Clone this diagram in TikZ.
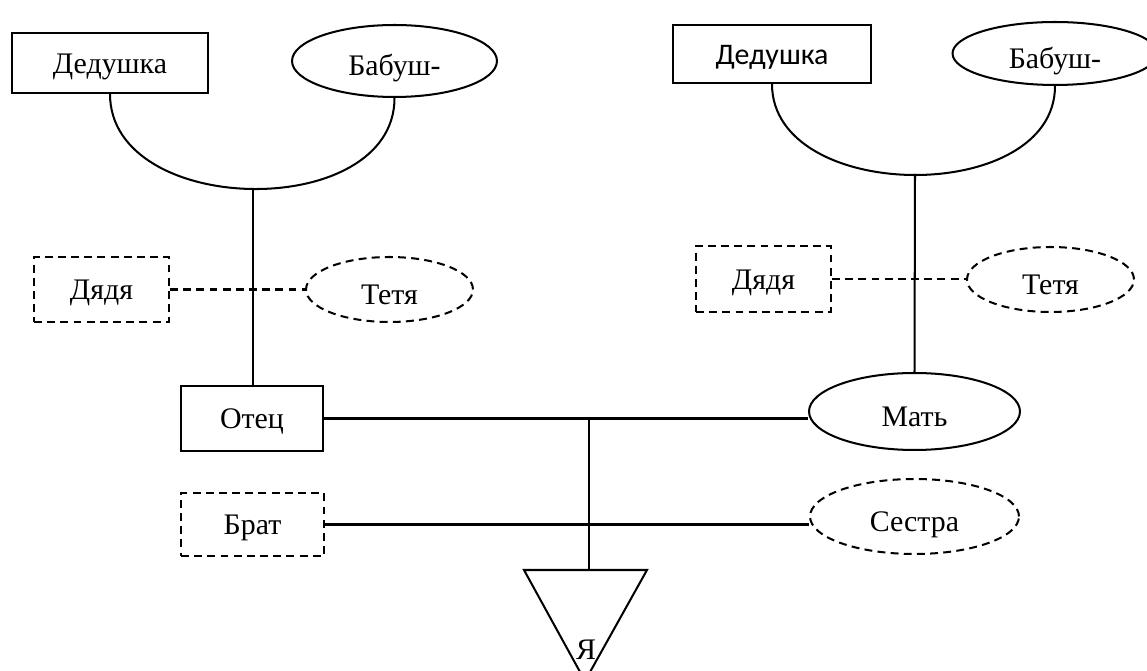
\documentclass[tikz,border=0pt]{standalone}
\usepackage{fontspec}
\setmainfont{Liberation Serif}
\newfontfamily\calibrifont{Carlito}
\usetikzlibrary{calc}
\usetikzlibrary{positioning}
\usetikzlibrary{shapes.geometric}

\tikzset{
    person/.style={draw, line width=1.15pt, inner sep=0pt, font=\fontsize{17}{20}\selectfont},
    male/.style={person, rectangle, text height=11.5pt, text depth=0pt},
    female/.style={person, ellipse, text height=16.6pt, text depth=0pt},
    side/.style={dash pattern=on 4.5pt off 3pt},
}

\begin{document}
\begin{tikzpicture}[x=0.02cm, y=-0.02cm, line width=1.15pt]

        \useasboundingbox (0,0) rectangle (1147,671);

        % father's side
        \node[male, minimum width=3.92cm, minimum height=1.2cm] (dedL) at (110,63) {Дедушка};
        \node[female, minimum width=4.1cm, minimum height=1.44cm] (babL) at (394.5,61) {Бабуш-};
        \node[male, side, minimum width=2.7cm, minimum height=1.3cm] (dyaL) at (101.5,289.5) {Дядя};
        \node[female, side, minimum width=3.34cm, minimum height=1.3cm] (tetL) at (389.5,289.5) {Тетя};
        \node[male, minimum width=2.84cm, minimum height=1.3cm] (otec) at (252,418.5) {Отец};

        % mother's side
        \node[male, minimum width=3.96cm, minimum height=1.16cm, font=\calibrifont\fontsize{17}{20}\selectfont] (dedR) at (772,54) {Дедушка};
        \node[female, minimum width=4.1cm, minimum height=1.26cm] (babR) at (1055,53.5) {Бабуш-};
        \node[male, side, minimum width=2.7cm, minimum height=1.32cm] (dyaR) at (763.5,279) {Дядя};
        \node[female, side, minimum width=3.34cm, minimum height=1.3cm] (tetR) at (1050.5,279.5) {Тетя};
        \node[female, minimum width=4.22cm, minimum height=1.54cm] (mat) at (914.5,411.5) {Мать};

        % children
        \node[male, side, minimum width=2.86cm, minimum height=1.26cm] (brat) at (252.5,524.5) {Брат};
        \node[female, side, minimum width=4.18cm, minimum height=1.5cm] (ses) at (914.5,516.5) {Сестра};

        \coordinate (jL) at (253,188);
        \coordinate (jR) at (915,174);
        \coordinate (jC) at (589,417);
        \coordinate (yaTop) at (589,570);
        \coordinate (ya1) at (524,570);
        \coordinate (ya2) at (647,570);
        \coordinate (ya3) at (585,681);

        \path[draw] (dedL.south) .. controls +(0,124) and +(0,124) .. (babL.south);
        \path[draw] (jL) -- (otec.north -| jL);
        \path[draw] (dedR.south) .. controls +(0,120) and +(0,120) .. (babR.south);
        \path[draw] (jR) -- (mat.north);

        \path[draw, side] (dyaL.east) -- (tetL.west);
        \path[draw, side] (dyaR.east) -- (dyaR.east -| tetR.west);

        \path[draw] (otec.east) -- (otec.east -| mat.west);
        \path[draw] (brat.east) -- (brat.east -| ses.west);
        \path[draw] (jC) -- (yaTop);

        \path[draw] (ya1) -- (ya2) -- (ya3) -- cycle;
        \node[font=\fontsize{17}{20}\selectfont, inner sep=0pt] (ya) at (586,650) {Я};

    \end{tikzpicture}
\end{document}
